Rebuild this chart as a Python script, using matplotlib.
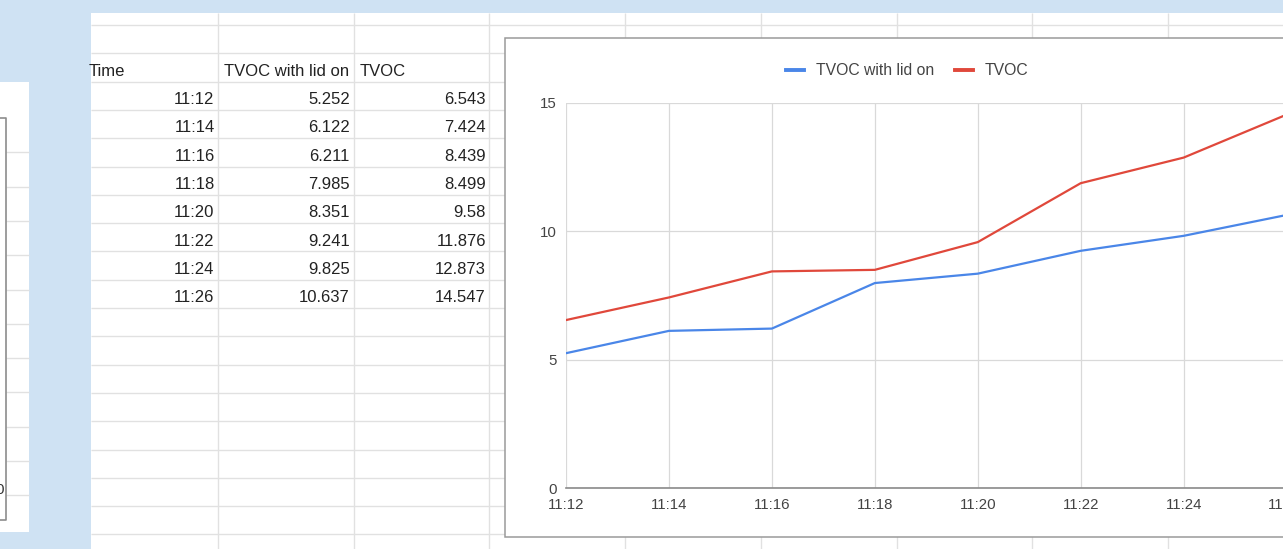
import numpy as np
import matplotlib
matplotlib.use("Agg")
import matplotlib.pyplot as plt
from matplotlib.patches import Rectangle
from matplotlib.lines import Line2D

plt.rcParams['font.family'] = ['Liberation Sans', 'DejaVu Sans']

# Data
times = ["11:12", "11:14", "11:16", "11:18", "11:20", "11:22", "11:24", "11:26"]
tvoc_lid_on = [5.252, 6.122, 6.211, 7.985, 8.351, 9.241, 9.825, 10.637]
tvoc = [6.543, 7.424, 8.439, 8.499, 9.58, 11.876, 12.873, 14.547]
headers = ["Time", "TVOC with lid on", "TVOC"]
series_names = ["TVOC with lid on", "TVOC"]
y_ticks = [0, 5, 10, 15]

W, H = 1283, 549
fig = plt.figure(figsize=(W / 100, H / 100), dpi=100)
fig.patch.set_facecolor('#cfe2f3')

# Pixel-space canvas for the sheet, grid and table
bg = fig.add_axes([0, 0, 1, 1])
bg.set_xlim(0, W)
bg.set_ylim(H, 0)
bg.axis('off')
bg.set_zorder(0)

grid_c = '#e1e1e1'

# Side panel on the left
bg.add_patch(Rectangle((0, 82), 29, 450, facecolor='white', edgecolor='none', zorder=0.5))
for k in range(1, 12):
    y = 118 + 34.3 * k
    bg.plot([6, 29], [y, y], color=grid_c, lw=1.0, solid_capstyle='butt', zorder=1)
bg.plot([0, 6, 6, 0], [118, 118, 520, 520], color='#8c8c8c', lw=1.2, zorder=1.5)
bg.text(3.5, 490, "0", ha='right', va='center', fontsize=11, color='#333333')

# Main sheet
sheet = Rectangle((91, 13), W - 91, H - 13, facecolor='white', edgecolor='none', zorder=0.5)
bg.add_patch(sheet)
row_h = 28.3
y = 25.0
while y < H:
    bg.plot([91, W], [y, y], color=grid_c, lw=1.0, solid_capstyle='butt', zorder=1)
    y += row_h
col_x = [218 + 135.7 * k for k in range(8)]
for x in col_x:
    bg.plot([x, x], [13, H], color=grid_c, lw=1.0, solid_capstyle='butt', zorder=1)

# Table text
txt_c = '#222222'
fs_tab = 12
t = bg.text(89, 76, headers[0], ha='left', va='baseline', fontsize=fs_tab, color=txt_c)
t.set_clip_path(sheet)
bg.text(224, 76, headers[1], ha='left', va='baseline', fontsize=fs_tab, color=txt_c)
bg.text(360, 76, headers[2], ha='left', va='baseline', fontsize=fs_tab, color=txt_c)
for i, (tm, a, b) in enumerate(zip(times, tvoc_lid_on, tvoc)):
    yb = 104 + row_h * i
    bg.text(214.5, yb, tm, ha='right', va='baseline', fontsize=fs_tab, color=txt_c)
    bg.text(350, yb, f"{a:g}", ha='right', va='baseline', fontsize=fs_tab, color=txt_c)
    bg.text(486, yb, f"{b:g}", ha='right', va='baseline', fontsize=fs_tab, color=txt_c)

# Chart container, covering the sheet grid behind it
bg.add_patch(Rectangle((505, 37.5), 820, 499, facecolor='white',
                       edgecolor='#9a9a9a', lw=1.1, zorder=3))

# Chart axes
x0, x1 = 566, 1286.6
y_top, y_bot = 103, 488
ax = fig.add_axes([x0 / W, (H - y_bot) / H, (x1 - x0) / W, (y_bot - y_top) / H])
ax.set_zorder(2)
ax.patch.set_alpha(0)

xs = np.arange(len(times))
blue, red = '#4a86e8', '#e0483b'
ax.plot(xs, tvoc_lid_on, color=blue, lw=1.6, solid_capstyle='round')
ax.plot(xs, tvoc, color=red, lw=1.6, solid_capstyle='round')

ax.set_xlim(0, len(times) - 1)
ax.set_ylim(0, 15)
ax.set_xticks(xs)
ax.set_xticklabels(times)
ax.set_yticks(y_ticks)
ax.tick_params(axis='both', length=0, labelsize=10.8, labelcolor='#444444')
ax.tick_params(axis='x', pad=7)
ax.tick_params(axis='y', pad=6.5)
ax.grid(True, color='#d9d9d9', lw=0.9)
ax.set_axisbelow(True)
for s in ['top', 'right', 'left']:
    ax.spines[s].set_visible(False)
ax.spines['bottom'].set_color('#8a8a8a')
ax.spines['bottom'].set_linewidth(1.2)

handles = [Line2D([], [], color=blue, lw=2.8), Line2D([], [], color=red, lw=2.8)]
ax.legend(handles, series_names, loc='center', ncol=2, frameon=False,
          bbox_to_anchor=(907.3 / W, 1 - 70.5 / H), bbox_transform=fig.transFigure,
          fontsize=11.3, handlelength=1.15, handletextpad=0.75, columnspacing=1.3,
          labelcolor='#444444')

fig.savefig("out.png", dpi=100, facecolor=fig.get_facecolor())
